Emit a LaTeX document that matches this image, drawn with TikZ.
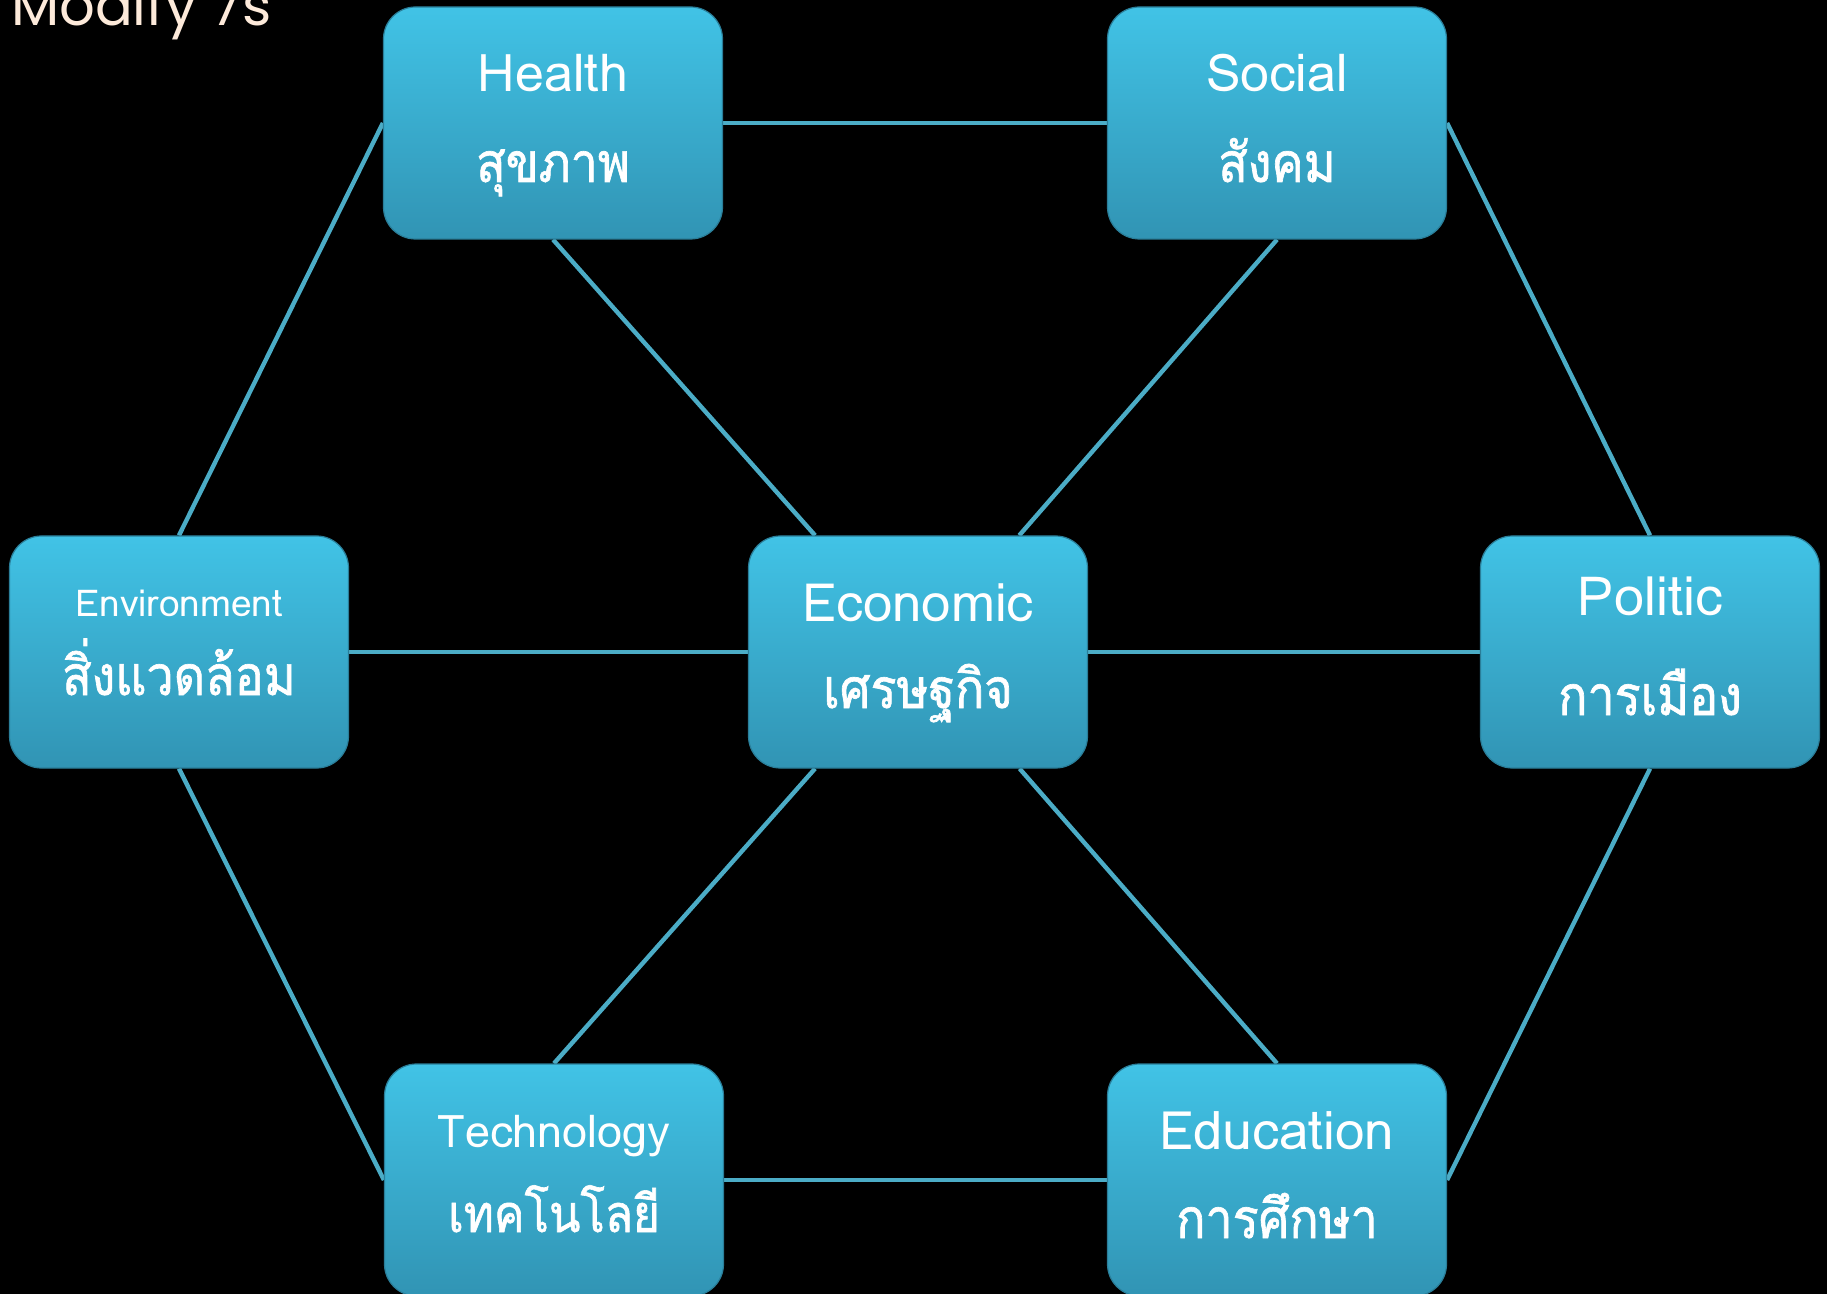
\documentclass[tikz,border=0pt]{standalone}
\usepackage{fontspec}
\setmainfont[Script=Thai]{Loma}
\newfontfamily\thaifont[Script=Thai, FakeStretch=0.88, FakeBold=1.2]{Loma}
\newfontfamily\titlefont{Poppins}
\usetikzlibrary{backgrounds}

\definecolor{linkblue}{HTML}{4BACC6}
\definecolor{boxtop}{HTML}{41C3E6}
\definecolor{boxbot}{HTML}{3194B4}
\definecolor{titlecream}{HTML}{FDEADA}

% two lines of a box: size of english, english, size of thai, thai, depth below thai
\newcommand{\enth}[5]{{\fontsize{#1}{#1}\selectfont\rule{0pt}{24pt}#2}\\{\thaifont\fontsize{#3}{#3}\selectfont #4\rule[-#5]{0pt}{#5}}}

\tikzset{
  topic/.style={rectangle, rounded corners=16pt, minimum width=169.5pt,
    minimum height=116pt, top color=boxtop, bottom color=boxbot,
    draw=boxbot!85!black, line width=0.6pt, text=white, align=center,
    inner sep=0pt},
  link/.style={draw=linkblue, line width=2.2pt},
}

\begin{document}
\begin{tikzpicture}[x=0.5pt, y=-0.5pt]
\useasboundingbox (0,0) rectangle (1827,1294);
\clip (0,0) rectangle (1827,1294);

\node[anchor=base west, text=titlecream, font=\titlefont\fontsize{28}{28}\selectfont]
  (title) at (4,26) {Modify 7s};

% the seven boxes, edit here for positions
\node[topic, font=\fontsize{20}{45pt}\selectfont] (health) at (553,123) {\enth{26}{Health}{27.5}{สุขภาพ}{10pt}};
\node[topic, font=\fontsize{20}{45pt}\selectfont] (social) at (1277,123) {\enth{26}{Social}{27.5}{สังคม}{10pt}};
\node[topic, font=\fontsize{20}{39.5pt}\selectfont] (env) at (179,652) {\enth{18.5}{Environment}{27.5}{สิ่งแวดล้อม}{20.5pt}};
\node[topic, font=\fontsize{20}{43.5pt}\selectfont] (econ) at (918,652) {\enth{26.4}{Economic}{27.5}{เศรษฐกิจ}{11.5pt}};
\node[topic, font=\fontsize{20}{50pt}\selectfont] (politic) at (1650,652) {\enth{27}{Politic}{27.5}{การเมือง}{11pt}};
\node[topic, font=\fontsize{20}{42.5pt}\selectfont] (tech) at (554,1180) {\enth{22.5}{Technology}{26}{เทคโนโลยี}{14.5pt}};
\node[topic, font=\fontsize{20}{44.5pt}\selectfont] (edu) at (1277,1180) {\enth{26.5}{Education}{27.5}{การศึกษา}{10.5pt}};

\begin{pgfonlayer}{background}
\fill[black] (0,0) rectangle (1827,1294);
% outer ring
\draw[link] (health.east) -- (social.west);
\draw[link] (social.east) -- (politic.north);
\draw[link] (politic.south) -- (edu.east);
\draw[link] (edu.west) -- (tech.east);
\draw[link] (tech.west) -- (env.south);
\draw[link] (env.north) -- (health.west);
% spokes to the middle
\draw[link] (env.east) -- (econ.west);
\draw[link] (econ.east) -- (politic.west);
\foreach \n in {health,social}
  \draw[link] (\n.south) -- (econ);
\foreach \n in {tech,edu}
  \draw[link] (\n.north) -- (econ);
\end{pgfonlayer}
\end{tikzpicture}
\end{document}
